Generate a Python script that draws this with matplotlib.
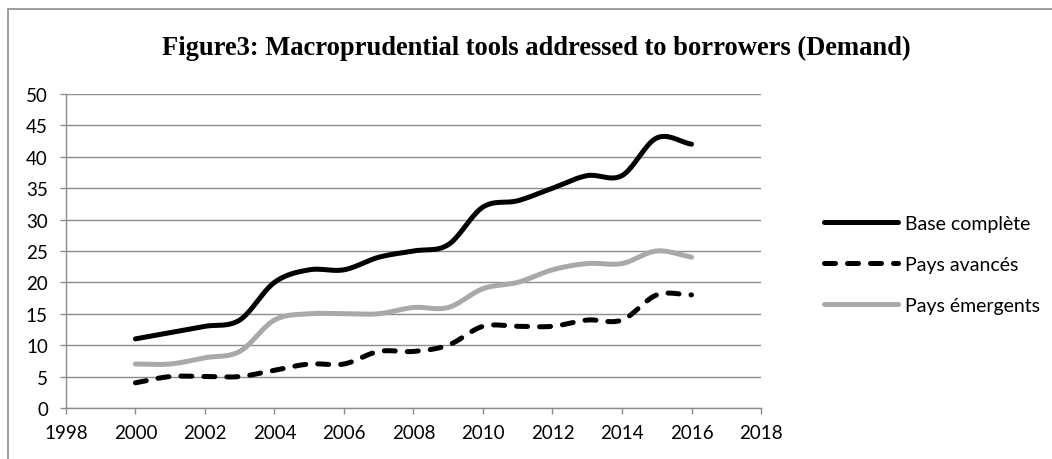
import numpy as np
import matplotlib
matplotlib.use("Agg")
import matplotlib.pyplot as plt
from matplotlib.patches import Rectangle

years = [2000, 2001, 2002, 2003, 2004, 2005, 2006, 2007, 2008,
         2009, 2010, 2011, 2012, 2013, 2014, 2015, 2016]
base_complete = [11, 12, 13, 14, 20, 22, 22, 24, 25, 26, 32, 33, 35, 37, 37, 43, 42]
pays_avances = [4, 5, 5, 5, 6, 7, 7, 9, 9, 10, 13, 13, 13, 14, 14, 18, 18]
pays_emergents = [7, 7, 8, 9, 14, 15, 15, 15, 16, 16, 19, 20, 22, 23, 23, 25, 24]
series_names = ["Base complète", "Pays avancés", "Pays émergents"]
title = "Figure3: Macroprudential tools addressed to borrowers (Demand)"


def smooth(x, y, n=20):
    """Catmull-Rom rendering of the line (Excel 'smoothed line' look)."""
    x = np.asarray(x, float)
    y = np.asarray(y, float)
    px = np.concatenate([[2 * x[0] - x[1]], x, [2 * x[-1] - x[-2]]])
    py = np.concatenate([[2 * y[0] - y[1]], y, [2 * y[-1] - y[-2]]])
    xs, ys = [], []
    t = np.linspace(0, 1, n, endpoint=False)
    for i in range(1, len(px) - 2):
        for arr, out in ((px, xs), (py, ys)):
            p0, p1, p2, p3 = arr[i - 1], arr[i], arr[i + 1], arr[i + 2]
            out.extend(0.5 * ((2 * p1) + (-p0 + p2) * t
                              + (2 * p0 - 5 * p1 + 4 * p2 - p3) * t ** 2
                              + (-p0 + 3 * p1 - 3 * p2 + p3) * t ** 3))
    xs.append(x[-1])
    ys.append(y[-1])
    return np.array(xs), np.array(ys)


fig = plt.figure(figsize=(10.52, 4.6), dpi=100)
fig.patches.append(Rectangle((8 / 1052, -0.02), 1.0, 1.02 - 10 / 460,
                             transform=fig.transFigure, fill=False,
                             edgecolor="#8c8c8c", linewidth=1.2))
ax = fig.add_axes([0.0627, 0.111, 0.6607, 0.6825])

tick_font = "Lato"
grid_c = "#8c8c8c"
lw = 3.6

x, y = smooth(years, base_complete)
ax.plot(x, y, color="black", lw=lw, solid_capstyle="round", label=series_names[0])
x, y = smooth(years, pays_avances)
ax.plot(x, y, color="black", lw=lw, dashes=(2.2, 2.4), dash_capstyle="round",
        label=series_names[1])
x, y = smooth(years, pays_emergents)
ax.plot(x, y, color="#a9a9a9", lw=lw, solid_capstyle="round", label=series_names[2])

ax.set_xlim(1998, 2018)
ax.set_ylim(0, 50)
ax.set_xticks(range(1998, 2019, 2))
ax.set_yticks(range(0, 51, 5))
ax.yaxis.grid(True, color=grid_c, lw=1.0)
ax.set_axisbelow(True)
for s in ("top", "right"):
    ax.spines[s].set_visible(False)
for s in ("left", "bottom"):
    ax.spines[s].set_color(grid_c)
    ax.spines[s].set_linewidth(1.0)
ax.tick_params(axis="both", colors=grid_c, length=4.5, width=1.0, labelcolor="black",
               labelsize=13.5)
ax.tick_params(axis="x", pad=7)
ax.tick_params(axis="y", pad=8.5)
for lab in ax.get_xticklabels() + ax.get_yticklabels():
    lab.set_fontfamily(tick_font)

fig.text(536 / 1052, 1 - 55 / 460, title, ha="center", va="baseline", fontsize=19.1,
         fontweight="bold", family="Liberation Serif")

leg = fig.legend(loc="center left", bbox_to_anchor=(0.767, 0.423), frameon=False,
                 prop={"family": tick_font, "size": 14}, handlelength=3.8,
                 handletextpad=0.36, labelspacing=1.23)

fig.savefig("out.png", dpi=100)
